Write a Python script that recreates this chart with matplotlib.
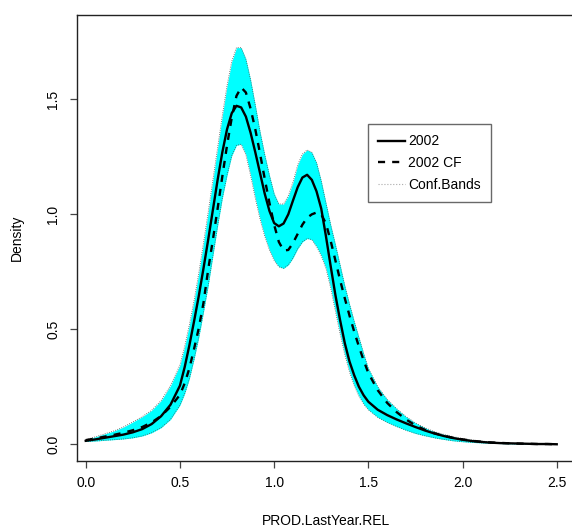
import matplotlib
matplotlib.use("Agg")
import matplotlib.pyplot as plt
from matplotlib.lines import Line2D

plt.rcParams['font.family'] = ['Liberation Sans', 'DejaVu Sans']

# density grid
x = [0.00, 0.05, 0.10, 0.15, 0.20, 0.25, 0.30, 0.35, 0.40, 0.45,
     0.500, 0.525, 0.550, 0.575, 0.600, 0.625, 0.650, 0.675, 0.700, 0.725,
     0.750, 0.775, 0.800, 0.825, 0.850, 0.875, 0.900, 0.925, 0.950, 0.975,
     1.000, 1.025, 1.050, 1.075, 1.100, 1.125, 1.150, 1.175, 1.200, 1.225,
     1.250, 1.275, 1.300, 1.325, 1.350, 1.375, 1.400, 1.425, 1.450, 1.475,
     1.500, 1.55, 1.60, 1.65, 1.70, 1.75, 1.80, 1.85, 1.90, 1.95,
     2.00, 2.05, 2.10, 2.15, 2.20, 2.25, 2.30, 2.35, 2.40, 2.45, 2.50]

dens_2002 = [0.015, 0.021, 0.028, 0.035, 0.042, 0.052, 0.066, 0.088, 0.122, 0.172,
             0.255, 0.335, 0.430, 0.535, 0.645, 0.765, 0.890, 1.020, 1.150, 1.270,
             1.370, 1.440, 1.472, 1.465, 1.425, 1.355, 1.270, 1.180, 1.090, 1.015,
             0.962, 0.948, 0.960, 1.000, 1.060, 1.118, 1.160, 1.172, 1.150, 1.100,
             1.025, 0.905, 0.775, 0.650, 0.540, 0.440, 0.360, 0.300, 0.250, 0.213,
             0.185, 0.150, 0.127, 0.108, 0.091, 0.075, 0.060, 0.047, 0.036, 0.027,
             0.020, 0.014, 0.010, 0.007, 0.005, 0.004, 0.003, 0.002, 0.001, 0.001, 0.000]

dens_2002_cf = [0.018, 0.025, 0.033, 0.041, 0.050, 0.061, 0.075, 0.095, 0.123, 0.163,
                0.215, 0.265, 0.330, 0.415, 0.505, 0.615, 0.760, 0.890, 1.025, 1.165,
                1.300, 1.420, 1.515, 1.552, 1.530, 1.460, 1.370, 1.265, 1.155, 1.050,
                0.955, 0.880, 0.843, 0.845, 0.875, 0.915, 0.955, 0.985, 1.000, 1.008,
                1.000, 0.960, 0.885, 0.800, 0.715, 0.635, 0.560, 0.490, 0.425, 0.365,
                0.310, 0.235, 0.180, 0.140, 0.108, 0.082, 0.063, 0.048, 0.037, 0.028,
                0.021, 0.015, 0.011, 0.008, 0.006, 0.004, 0.003, 0.002, 0.001, 0.001, 0.000]

band_hi = [0.020, 0.032, 0.045, 0.058, 0.075, 0.097, 0.120, 0.148, 0.190, 0.255,
           0.345, 0.425, 0.520, 0.625, 0.745, 0.875, 1.010, 1.150, 1.290, 1.430,
           1.560, 1.665, 1.725, 1.725, 1.675, 1.585, 1.475, 1.360, 1.260, 1.170,
           1.090, 1.045, 1.045, 1.080, 1.140, 1.215, 1.262, 1.280, 1.270, 1.225,
           1.145, 1.050, 0.955, 0.870, 0.780, 0.690, 0.610, 0.535, 0.465, 0.395,
           0.330, 0.250, 0.195, 0.155, 0.120, 0.093, 0.072, 0.055, 0.043, 0.033,
           0.025, 0.019, 0.014, 0.010, 0.007, 0.005, 0.004, 0.003, 0.002, 0.001, 0.001]

band_lo = [0.012, 0.014, 0.017, 0.020, 0.023, 0.028, 0.036, 0.050, 0.072, 0.108,
           0.170, 0.220, 0.285, 0.370, 0.465, 0.575, 0.690, 0.820, 0.950, 1.070,
           1.170, 1.255, 1.300, 1.305, 1.260, 1.170, 1.070, 0.980, 0.905, 0.845,
           0.800, 0.772, 0.765, 0.780, 0.810, 0.850, 0.880, 0.895, 0.890, 0.860,
           0.820, 0.765, 0.680, 0.580, 0.480, 0.390, 0.315, 0.255, 0.210, 0.175,
           0.150, 0.117, 0.095, 0.077, 0.061, 0.047, 0.037, 0.028, 0.021, 0.015,
           0.011, 0.008, 0.006, 0.004, 0.003, 0.002, 0.001, 0.001, 0.000, 0.000, 0.000]

x_ticks = [0.0, 0.5, 1.0, 1.5, 2.0, 2.5]
y_ticks = [0.0, 0.5, 1.0, 1.5]
legend_labels = ['2002', '2002 CF', 'Conf.Bands']

fig = plt.figure(figsize=(5.72, 5.30), dpi=100)
ax = fig.add_axes([76.7 / 572, 69.3 / 530, 498.3 / 572, 445.7 / 530])

ax.fill_between(x, band_lo, band_hi, color='#00FFFF', linewidth=0)
ax.plot(x, band_hi, color='#555555', linestyle=':', linewidth=0.6)
ax.plot(x, band_lo, color='#555555', linestyle=':', linewidth=0.6)
ax.plot(x, dens_2002, color='black', linewidth=1.7)
ax.plot(x, dens_2002_cf, color='black', linewidth=1.7, linestyle=(0, (3, 3)))

ax.set_xlim(-0.048, 2.597)
ax.set_ylim(-0.0715, 1.867)
ax.set_xticks(x_ticks)
ax.set_xticklabels([f'{v:.1f}' for v in x_ticks])
ax.set_yticks(y_ticks)
ax.set_yticklabels([f'{v:.1f}' for v in y_ticks], rotation=90, va='center')
ax.tick_params(direction='out', length=5, width=0.9, color='#444444',
               labelsize=10)
ax.tick_params(axis='x', pad=6)
ax.tick_params(axis='y', pad=7)
for sp in ax.spines.values():
    sp.set_linewidth(1.0)
    sp.set_color('#222222')

fig.text(326 / 572, 1 - 521 / 530, 'PROD.LastYear.REL', ha='center', va='center', fontsize=10)
fig.text(17 / 572, 1 - 238 / 530, 'Density', ha='center', va='center', rotation=90, fontsize=10)

handles = [
    Line2D([], [], color='black', linewidth=1.7),
    Line2D([], [], color='black', linewidth=1.7, linestyle=(0, (3, 3))),
    Line2D([], [], color='#aaaaaa', linewidth=0.8, linestyle=':'),
]
leg = ax.legend(handles, legend_labels, loc='upper left',
                bbox_to_anchor=((368 - 76.7) / 498.3, (460.7 - 124) / 445.7),
                frameon=True, fancybox=False, fontsize=10, handlelength=1.9,
                handletextpad=0.25, labelspacing=0.55, borderpad=0.75,
                borderaxespad=0)
leg.get_frame().set_edgecolor('#444444')
leg.get_frame().set_linewidth(1.0)

fig.savefig('out.png', dpi=100)
